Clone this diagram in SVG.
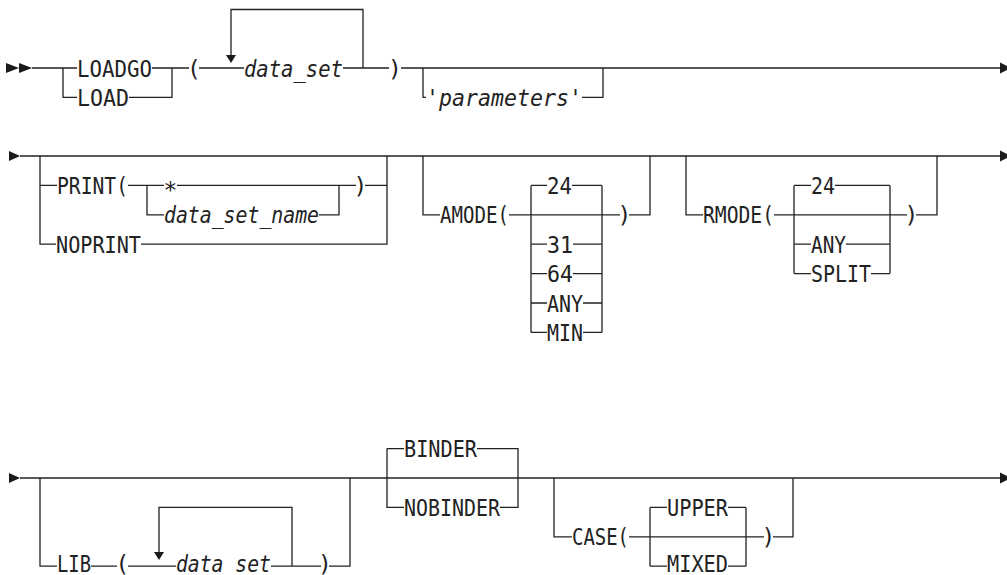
<svg xmlns="http://www.w3.org/2000/svg" width="1007" height="575" viewBox="0 0 1007 575">
<style>
.ln{fill:none;stroke:#222;stroke-width:1.3}
.ar{fill:#1a1a1a;stroke:none}
.t{font-family:"DejaVu Sans Mono","Liberation Mono",monospace;font-size:23px;fill:#222}
.i{font-style:italic}
.c{text-anchor:middle}
</style>
<rect width="1007" height="575" fill="#fff"/>
<g id="connectors">
<path class="ar" d="M6 63L19 68L6 73ZM19 63L32 68L19 73Z"/>
<path class="ln" d="M32 68H77M152 68H189M199 68H244M343 68H389M401 68H1001"/>
<path class="ln" d="M63 68V97.4H77M129 97.4H172V68"/>
<path class="ln" d="M363 68V9.5H231V56"/>
<path class="ar" d="M226 55H236L231 63Z"/>
<path class="ln" d="M423 68V97.4H426M582 97.4H603V68"/>
<path class="ar" d="M1000 62.5L1011 68L1000 73.5Z"/>
<path class="ar" d="M9 151L20 156L9 161Z"/>
<path class="ln" d="M20 156H1001"/>
<path class="ln" d="M40 156V244.2H56M40 185.4H57M128 185.4H164M147 185.4V214.8H164M177 185.4H339V214.8H319M339 185.4H356M365 185.4H387M141 244.2H387V156"/>
<path class="ln" d="M423 156V214.8H440M509 214.8H620M629 214.8H650V156"/>
<path class="ln" d="M531 185.4V332.4M602 185.4V332.4M531 185.4H547M572 185.4H602M531 244.2H547M573 244.2H602M531 273.6H547M573 273.6H602M531 303H547M583 303H602M531 332.4H547M583 332.4H602"/>
<path class="ln" d="M686 156V214.8H703M774 214.8H907M916 214.8H937V156"/>
<path class="ln" d="M794 185.4V273.6M890 185.4V273.6M794 185.4H811M835 185.4H890M794 244.2H811M846 244.2H890M794 273.6H811M871 273.6H890"/>
<path class="ar" d="M1000 150.5L1011 156L1000 161.5Z"/>
<path class="ar" d="M9 473L20 478L9 483Z"/>
<path class="ln" d="M20 478H1001"/>
<path class="ln" d="M40 478V566.2H57M91 566.2H117M128 566.2H176M292 566.2V507.4H159V552M271 566.2H321M329 566.2H350V478"/>
<path class="ar" d="M154 552H164L159 560Z"/>
<path class="ln" d="M387 448.6V507.4H404M387 448.6H404M477 448.6H518V507.4H500"/>
<path class="ln" d="M554 478V536.8H572M629 536.8H764M773 536.8H793V478"/>
<path class="ln" d="M650 507.4V566.2M746 507.4V566.2M650 507.4H667M728 507.4H746M650 566.2H667M728 566.2H746"/>
<path class="ar" d="M1000 472.5L1011 478L1000 483.5Z"/>
</g>
<g id="n_loadgo"><text class="t" x="77" y="76.5" textLength="75" lengthAdjust="spacingAndGlyphs">LOADGO</text></g>
<g id="n_load"><text class="t" x="77" y="105.9" textLength="52" lengthAdjust="spacingAndGlyphs">LOAD</text></g>
<g id="n_lp1"><text class="t c" x="194" y="76.5">(</text></g>
<g id="n_dataset1"><text class="t i" x="244" y="76.5" textLength="99" lengthAdjust="spacingAndGlyphs">data_set</text></g>
<g id="n_rp1"><text class="t c" x="395" y="76.5">)</text></g>
<g id="n_params"><text class="t i" x="426" y="105.9" textLength="156" lengthAdjust="spacingAndGlyphs">'parameters'</text></g>
<g id="n_print"><text class="t" x="57" y="193.9" textLength="71" lengthAdjust="spacingAndGlyphs">PRINT(</text></g>
<g id="n_star"><text class="t c" x="170.5" y="197.9">*</text></g>
<g id="n_dsn"><text class="t i" x="164" y="223.3" textLength="155" lengthAdjust="spacingAndGlyphs">data_set_name</text></g>
<g id="n_rp2"><text class="t c" x="360.5" y="193.9">)</text></g>
<g id="n_noprint"><text class="t" x="56" y="252.7" textLength="85" lengthAdjust="spacingAndGlyphs">NOPRINT</text></g>
<g id="n_amode"><text class="t" x="440" y="223.3" textLength="69" lengthAdjust="spacingAndGlyphs">AMODE(</text></g>
<g id="n_a24"><text class="t" x="547" y="193.9" textLength="25" lengthAdjust="spacingAndGlyphs">24</text></g>
<g id="n_arp"><text class="t c" x="624.5" y="223.3">)</text></g>
<g id="n_a31"><text class="t" x="547" y="252.7" textLength="26" lengthAdjust="spacingAndGlyphs">31</text></g>
<g id="n_a64"><text class="t" x="547" y="282.1" textLength="26" lengthAdjust="spacingAndGlyphs">64</text></g>
<g id="n_aany"><text class="t" x="547" y="311.5" textLength="36" lengthAdjust="spacingAndGlyphs">ANY</text></g>
<g id="n_amin"><text class="t" x="547" y="340.9" textLength="36" lengthAdjust="spacingAndGlyphs">MIN</text></g>
<g id="n_rmode"><text class="t" x="703" y="223.3" textLength="71" lengthAdjust="spacingAndGlyphs">RMODE(</text></g>
<g id="n_r24"><text class="t" x="811" y="193.9" textLength="24" lengthAdjust="spacingAndGlyphs">24</text></g>
<g id="n_rrp"><text class="t c" x="911.5" y="223.3">)</text></g>
<g id="n_rany"><text class="t" x="811" y="252.7" textLength="35" lengthAdjust="spacingAndGlyphs">ANY</text></g>
<g id="n_rsplit"><text class="t" x="811" y="282.1" textLength="60" lengthAdjust="spacingAndGlyphs">SPLIT</text></g>
<g id="n_lib"><text class="t" x="57" y="571.5" textLength="34" lengthAdjust="spacingAndGlyphs">LIB</text></g>
<g id="n_llp"><text class="t c" x="122.5" y="571.5">(</text></g>
<g id="n_ds3"><text class="t i" x="176" y="571.5" textLength="95" lengthAdjust="spacingAndGlyphs">data set</text></g>
<g id="n_lrp"><text class="t c" x="325" y="571.5">)</text></g>
<g id="n_binder"><text class="t" x="404" y="457.1" textLength="73" lengthAdjust="spacingAndGlyphs">BINDER</text></g>
<g id="n_nobinder"><text class="t" x="404" y="515.9" textLength="96" lengthAdjust="spacingAndGlyphs">NOBINDER</text></g>
<g id="n_case"><text class="t" x="572" y="545.3" textLength="57" lengthAdjust="spacingAndGlyphs">CASE(</text></g>
<g id="n_upper"><text class="t" x="667" y="515.9" textLength="61" lengthAdjust="spacingAndGlyphs">UPPER</text></g>
<g id="n_mixed"><text class="t" x="667" y="571.5" textLength="61" lengthAdjust="spacingAndGlyphs">MIXED</text></g>
<g id="n_crp"><text class="t c" x="768.5" y="545.3">)</text></g>
</svg>
